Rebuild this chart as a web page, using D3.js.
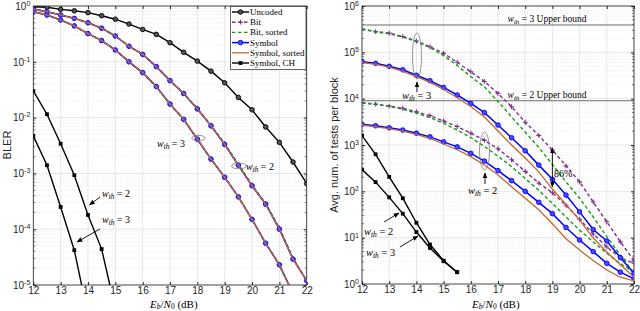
<!DOCTYPE html>
<html>
<head>
<meta charset="utf-8">
<script src="https://cdn.jsdelivr.net/npm/d3@7"></script>
<style>
  body { margin: 0; background: #fff; }
  svg { display: block; }
  .tick text { font-family: "Liberation Sans", Arial, sans-serif; font-size: 10px; fill: #262626; }
</style>
</head>
<body>
<div id="chart"></div>
<script>
// Eb/N0 grid (dB), shared by every curve
const ebn0 = [12, 12.5, 13, 13.5, 14, 14.5, 15, 15.5, 16, 16.5, 17, 17.5, 18, 18.5, 19, 19.5, 20, 20.5, 21, 21.5, 22];
const ebn0Ch = [12, 12.5, 13, 13.5, 14, 14.5, 15, 15.5];

// ---- left panel: BLER ----
const blerUncoded = [0.97, 0.95, 0.87, 0.82, 0.76, 0.67, 0.58, 0.475, 0.38, 0.31, 0.22, 0.148, 0.103, 0.068, 0.042, 0.023, 0.0138, 0.0068, 0.0036, 0.0016, 6.6e-4];
const blerBitW2 = [0.88, 0.79, 0.69, 0.60, 0.50, 0.40, 0.29, 0.19, 0.136, 0.082, 0.046, 0.027, 0.0146, 0.0073, 0.0034, 1.45e-3, 6.2e-4, 2.9e-4, 1.05e-4, 3.0e-5, 1.2e-5];
const blerBitW3 = [0.79, 0.69, 0.56, 0.44, 0.32, 0.24, 0.163, 0.10, 0.064, 0.036, 0.0175, 0.0093, 0.0041, 0.0018, 8.6e-4, 3.8e-4, 1.5e-4, 5.6e-5, 2.3e-5, 7e-6, null];
const blerBitSortW2 = [0.88, 0.79, 0.69, 0.60, 0.50, 0.40, 0.29, 0.19, 0.136, 0.082, 0.046, 0.027, 0.0145, 0.0072, 0.0034, 1.45e-3, 6.1e-4, 2.85e-4, 1.02e-4, 3.0e-5, 1.2e-5];
const blerBitSortW3 = [0.79, 0.69, 0.56, 0.44, 0.32, 0.24, 0.163, 0.10, 0.063, 0.035, 0.0172, 0.0092, 0.0041, 0.0018, 8.5e-4, 3.8e-4, 1.5e-4, 5.6e-5, 2.3e-5, 7e-6, null];
const blerSymW2 = [0.88, 0.79, 0.69, 0.60, 0.50, 0.40, 0.29, 0.19, 0.136, 0.082, 0.046, 0.027, 0.0143, 0.0071, 0.0033, 1.4e-3, 6.0e-4, 2.8e-4, 1.0e-4, 2.9e-5, 1.2e-5];
const blerSymW3 = [0.79, 0.69, 0.56, 0.44, 0.32, 0.24, 0.163, 0.10, 0.064, 0.036, 0.0175, 0.0093, 0.0041, 0.0018, 8.5e-4, 3.8e-4, 1.5e-4, 5.6e-5, 2.3e-5, 7e-6, null];
const blerSymSortW2 = [0.88, 0.79, 0.69, 0.60, 0.50, 0.40, 0.29, 0.19, 0.136, 0.082, 0.046, 0.027, 0.0143, 0.0071, 0.0033, 1.4e-3, 6.0e-4, 2.8e-4, 1.0e-4, 2.9e-5, 1.2e-5];
const blerSymSortW3 = [0.79, 0.69, 0.56, 0.44, 0.32, 0.24, 0.163, 0.10, 0.064, 0.036, 0.0175, 0.0093, 0.0041, 0.0018, 8.5e-4, 3.8e-4, 1.5e-4, 5.6e-5, 2.3e-5, 7e-6, null];
const blerChW2 = [0.030, 0.0115, 0.0034, 9.3e-4, 1.8e-4, 4.4e-5, 3.7e-6, null];
const blerChW3 = [0.0047, 1.4e-3, 2.5e-4, 4.2e-5, 2.9e-6, null, null, null];

// ---- right panel: average number of tests per block ----
const testsBitW3 = [3.2e5, 2.8e5, 2.6e5, 2.2e5, 1.75e5, 1.32e5, 9.5e4, 6.1e4, 3.8e4, 2.35e4, 1.3e4, 6.7e3, 3.1e3, 1.6e3, 780, 355, 160, 59, 22, 8.1, 3.2];
const testsBitSortW3 = [3.2e5, 2.75e5, 2.5e5, 2.15e5, 1.7e5, 1.26e5, 8.5e4, 5.2e4, 3.0e4, 1.8e4, 8.7e3, 4.0e3, 1.9e3, 890, 380, 160, 71, 28, 10.5, 4.2, 1.7];
const testsSymW3 = [6.3e4, 5.8e4, 5.0e4, 4.2e4, 3.2e4, 2.44e4, 1.75e4, 1.2e4, 7.9e3, 5.0e3, 2.7e3, 1.43e3, 750, 368, 182, 83, 36, 15, 8.5, 3.7, 1.7];
const testsSymSortW3 = [6.0e4, 5.5e4, 4.8e4, 3.9e4, 3.0e4, 2.24e4, 1.58e4, 1.05e4, 6.8e3, 4.0e3, 2.0e3, 1.0e3, 525, 263, 112, 52, 24, 9.8, 4.9, 2.6, 1.4];
const testsBitW2 = [8.1e3, 7.6e3, 6.9e3, 6.2e3, 5.2e3, 4.3e3, 3.3e3, 2.5e3, 1.8e3, 1.26e3, 830, 480, 270, 151, 93, 50, 25, 12, 6.3, 3.7, 2.8];
const testsBitSortW2 = [8.1e3, 7.6e3, 6.8e3, 5.9e3, 4.9e3, 3.9e3, 2.95e3, 2.1e3, 1.45e3, 930, 575, 340, 190, 105, 55, 28, 14.5, 8.1, 4.6, 2.75, 1.8];
const testsSymW2 = [2.8e3, 2.6e3, 2.35e3, 2.1e3, 1.8e3, 1.5e3, 1.17e3, 910, 660, 450, 280, 170, 100, 58, 33, 16.6, 8.9, 5.0, 2.8, 1.8, 1.3];
const testsSymSortW2 = [2.7e3, 2.45e3, 2.25e3, 2.0e3, 1.7e3, 1.38e3, 1.05e3, 790, 560, 370, 225, 126, 71, 40, 20, 9.5, 5.4, 3.2, 2.0, 1.4, 1.17];
const testsChW2 = [1.6e3, 630, 205, 71, 21, 7.1, 3.2, 1.8];
const testsChW3 = [295, 158, 74, 33, 13.2, 6.0, 3.1, 1.8];
const upperBoundW3 = 3.9e5;
const upperBoundW2 = 9.0e3;

const xTicks = [12, 13, 14, 15, 16, 17, 18, 19, 20, 21, 22];
const blerTicks = [1e-5, 1e-4, 1e-3, 1e-2, 1e-1, 1];
const testTicks = [1, 10, 100, 1e3, 1e4, 1e5, 1e6];

const legendNames = ["Uncoded", "Bit", "Bit, sorted", "Symbol", "Symbol, sorted", "Symbol, CH"];

// line styles
const styles = {
    uncoded: { color: "#000", width: 1.4, marker: "circle", fill: "#555" },
    bit: { color: "#7e2f8e", width: 1.4, dash: "3.5,2.5", marker: "plus" },
    bitSort: { color: "#1a9a1a", width: 1.4, dash: "3.5,2.5" },
    sym: { color: "#0000ff", width: 1.5, marker: "circle", fill: "#4a4aff" },
    symSort: { color: "#c0692e", width: 1.3 },
    ch: { color: "#000", width: 1.4, marker: "square" }
};

const serif = "'Liberation Serif', 'DejaVu Serif', serif";
const sans = "'Liberation Sans', Arial, sans-serif";

const svg = d3.select("#chart").append("svg")
    .attr("width", 640)
    .attr("height", 311);

svg.append("rect").attr("width", 640).attr("height", 311).attr("fill", "#fff");

const defs = svg.append("defs");
defs.append("marker")
    .attr("id", "arrow")
    .attr("viewBox", "0 0 10 10")
    .attr("refX", 9).attr("refY", 5)
    .attr("markerWidth", 6).attr("markerHeight", 6)
    .attr("markerUnits", "userSpaceOnUse")
    .attr("orient", "auto-start-reverse")
    .append("path")
    .attr("d", "M0,1 L10,5 L0,9 Z")
    .attr("fill", "#000");

function drawPanel(cfg) {
    const x = d3.scaleLinear().domain([12, 22]).range([cfg.left, cfg.right]);
    const y = d3.scaleLog().domain(cfg.yDomain).range([cfg.bottom, cfg.top]);
    const g = svg.append("g");

    defs.append("clipPath").attr("id", cfg.id + "-clip")
        .append("rect")
        .attr("x", cfg.left).attr("y", cfg.top)
        .attr("width", cfg.right - cfg.left).attr("height", cfg.bottom - cfg.top);

    // minor grid
    const minor = [];
    const lo = Math.round(Math.log10(cfg.yDomain[0]));
    const hi = Math.round(Math.log10(cfg.yDomain[1]));
    for (let k = lo; k < hi; k++) {
        for (let m = 2; m <= 9; m++) minor.push(m * Math.pow(10, k));
    }
    g.append("g").selectAll("line")
        .data(minor)
        .enter().append("line")
        .attr("x1", cfg.left).attr("x2", cfg.right)
        .attr("y1", d => y(d)).attr("y2", d => y(d))
        .attr("stroke", "#e4e4e4")
        .attr("stroke-width", 0.6)
        .attr("stroke-dasharray", "1.5,1.5");

    // major grid
    g.append("g").selectAll("line")
        .data(cfg.yTicks)
        .enter().append("line")
        .attr("x1", cfg.left).attr("x2", cfg.right)
        .attr("y1", d => y(d)).attr("y2", d => y(d))
        .attr("stroke", "#dcdcdc")
        .attr("stroke-width", 0.7);
    g.append("g").selectAll("line")
        .data(xTicks)
        .enter().append("line")
        .attr("x1", d => x(d)).attr("x2", d => x(d))
        .attr("y1", cfg.top).attr("y2", cfg.bottom)
        .attr("stroke", "#dcdcdc")
        .attr("stroke-width", 0.7);

    // axes (ticks point inwards, MATLAB style)
    g.append("g")
        .attr("transform", `translate(0,${cfg.bottom})`)
        .call(d3.axisBottom(x).tickValues(xTicks).tickSizeInner(-3).tickSizeOuter(0).tickPadding(2).tickFormat(d3.format("d")))
        .call(a => a.select(".domain").remove());
    g.append("g")
        .attr("transform", `translate(0,${cfg.top})`)
        .call(d3.axisTop(x).tickValues(xTicks).tickSizeInner(-3).tickSizeOuter(0).tickFormat(""))
        .call(a => a.select(".domain").remove());

    const yAxis = g.append("g")
        .attr("transform", `translate(${cfg.left},0)`)
        .call(d3.axisLeft(y).tickValues(cfg.yTicks).tickSizeInner(-3).tickSizeOuter(0).tickPadding(3))
        .call(a => a.select(".domain").remove());
    yAxis.selectAll(".tick text").each(function (d) {
        const t = d3.select(this);
        t.text(null);
        t.append("tspan").text("10");
        t.append("tspan").attr("dy", "-0.55em").style("font-size", "7px").text(Math.round(Math.log10(d)));
    });
    g.append("g")
        .attr("transform", `translate(${cfg.right},0)`)
        .call(d3.axisRight(y).tickValues(cfg.yTicks).tickSizeInner(-3).tickSizeOuter(0).tickFormat(""))
        .call(a => a.select(".domain").remove());

    // minor ticks on the log axes
    [[cfg.left, 2], [cfg.right, -2]].forEach(([px, len]) => {
        g.append("g").selectAll("line")
            .data(minor)
            .enter().append("line")
            .attr("x1", px).attr("x2", px + len)
            .attr("y1", d => y(d)).attr("y2", d => y(d))
            .attr("stroke", "#262626")
            .attr("stroke-width", 0.6);
    });
    g.selectAll(".tick line").attr("stroke", "#262626");

    // box
    g.append("rect")
        .attr("x", cfg.left).attr("y", cfg.top)
        .attr("width", cfg.right - cfg.left).attr("height", cfg.bottom - cfg.top)
        .attr("fill", "none")
        .attr("stroke", "#262626")
        .attr("stroke-width", 0.8);

    const plot = svg.append("g").attr("clip-path", `url(#${cfg.id}-clip)`);

    // horizontal reference lines
    (cfg.hlines || []).forEach(v => {
        plot.append("line")
            .attr("x1", cfg.left).attr("x2", cfg.right)
            .attr("y1", y(v)).attr("y2", y(v))
            .attr("stroke", "#6e6e6e")
            .attr("stroke-width", 1.1);
    });

    cfg.series.forEach(s => {
        const pts = s.xs.map((xv, i) => [xv, s.ys[i]]).filter(p => p[1] != null);
        drawSeries(plot, pts, s.style, x, y);
    });

    return { x, y };
}

function drawMarker(sel, pts, st, x, y) {
    if (st.marker === "circle") {
        sel.selectAll(null).data(pts).enter().append("circle")
            .attr("cx", d => x(d[0])).attr("cy", d => y(d[1]))
            .attr("r", 2.3)
            .attr("fill", st.fill)
            .attr("stroke", st.color)
            .attr("stroke-width", 0.9);
    } else if (st.marker === "square") {
        sel.selectAll(null).data(pts).enter().append("rect")
            .attr("x", d => x(d[0]) - 1.9).attr("y", d => y(d[1]) - 1.9)
            .attr("width", 3.8).attr("height", 3.8)
            .attr("fill", st.color);
    } else if (st.marker === "plus") {
        sel.selectAll(null).data(pts).enter().append("path")
            .attr("d", d => {
                const px = x(d[0]), py = y(d[1]);
                return `M${px - 2.4},${py}H${px + 2.4}M${px},${py - 2.4}V${py + 2.4}`;
            })
            .attr("stroke", st.color)
            .attr("stroke-width", 1.1);
    }
}

function drawSeries(sel, pts, st, x, y) {
    const line = d3.line().x(d => x(d[0])).y(d => y(d[1]));
    sel.append("path")
        .datum(pts)
        .attr("d", line)
        .attr("fill", "none")
        .attr("stroke", st.color)
        .attr("stroke-width", st.width)
        .attr("stroke-dasharray", st.dash || null);
    drawMarker(sel, pts, st, x, y);
}

// w_th label: italic w with subscript th, then " = n"
function wth(sel, px, py, n, size) {
    const t = sel.append("text")
        .attr("x", px).attr("y", py)
        .attr("font-family", serif)
        .attr("font-size", size || 10);
    t.append("tspan").attr("font-style", "italic").text("w");
    t.append("tspan").attr("font-style", "italic").attr("font-size", (size || 10) * 0.72).attr("dy", 2).text("th");
    t.append("tspan").attr("dy", -2).text(" = " + n);
    return t;
}

function arrow(x1, y1, x2, y2, both) {
    svg.append("line")
        .attr("x1", x1).attr("y1", y1).attr("x2", x2).attr("y2", y2)
        .attr("stroke", "#000")
        .attr("stroke-width", 0.9)
        .attr("marker-end", "url(#arrow)")
        .attr("marker-start", both ? "url(#arrow)" : null);
}

function ellipse(cx, cy, rx, ry) {
    svg.append("ellipse")
        .attr("cx", cx).attr("cy", cy).attr("rx", rx).attr("ry", ry)
        .attr("fill", "none")
        .attr("stroke", "#7a7a7a")
        .attr("stroke-width", 0.8);
}

function xLabel(px, py) {
    const t = svg.append("text")
        .attr("x", px).attr("y", py)
        .attr("font-family", serif)
        .attr("font-size", 11);
    t.append("tspan").attr("font-style", "italic").text("E");
    t.append("tspan").attr("font-style", "italic").attr("font-size", 7.5).attr("dy", 1.6).text("b");
    t.append("tspan").attr("dy", -1.6).text("/");
    t.append("tspan").attr("font-style", "italic").text("N");
    t.append("tspan").attr("font-size", 7.5).attr("dy", 1.6).text("0");
    t.append("tspan").attr("dy", -1.6).text(" (dB)");
}

// ---------- left panel ----------
drawPanel({
    id: "bler",
    left: 33.3, right: 306.7, top: 6, bottom: 285,
    yDomain: [1e-5, 1],
    yTicks: blerTicks,
    series: [
        { xs: ebn0, ys: blerUncoded, style: styles.uncoded },
        { xs: ebn0, ys: blerBitW2, style: styles.bit },
        { xs: ebn0, ys: blerBitW3, style: styles.bit },
        { xs: ebn0, ys: blerBitSortW2, style: styles.bitSort },
        { xs: ebn0, ys: blerBitSortW3, style: styles.bitSort },
        { xs: ebn0, ys: blerSymW2, style: styles.sym },
        { xs: ebn0, ys: blerSymW3, style: styles.sym },
        { xs: ebn0, ys: blerSymSortW2, style: styles.symSort },
        { xs: ebn0, ys: blerSymSortW3, style: styles.symSort },
        { xs: ebn0Ch, ys: blerChW2, style: styles.ch },
        { xs: ebn0Ch, ys: blerChW3, style: styles.ch }
    ]
});

// ---------- right panel ----------
drawPanel({
    id: "tests",
    left: 362, right: 634, top: 6, bottom: 284,
    yDomain: [1, 1e6],
    yTicks: testTicks,
    hlines: [upperBoundW3, upperBoundW2],
    series: [
        { xs: ebn0, ys: testsBitW3, style: styles.bit },
        { xs: ebn0, ys: testsBitW2, style: styles.bit },
        { xs: ebn0, ys: testsBitSortW3, style: styles.bitSort },
        { xs: ebn0, ys: testsBitSortW2, style: styles.bitSort },
        { xs: ebn0, ys: testsSymW3, style: styles.sym },
        { xs: ebn0, ys: testsSymW2, style: styles.sym },
        { xs: ebn0, ys: testsSymSortW3, style: styles.symSort },
        { xs: ebn0, ys: testsSymSortW2, style: styles.symSort },
        { xs: ebn0Ch, ys: testsChW2, style: styles.ch },
        { xs: ebn0Ch, ys: testsChW3, style: styles.ch }
    ]
});

// axis titles
svg.append("text")
    .attr("transform", "translate(11,145) rotate(-90)")
    .attr("text-anchor", "middle")
    .attr("font-family", sans)
    .attr("font-size", 11)
    .attr("fill", "#262626")
    .text("BLER");
svg.append("text")
    .attr("transform", "translate(338,145) rotate(-90)")
    .attr("text-anchor", "middle")
    .attr("font-family", sans)
    .attr("font-size", 11)
    .attr("fill", "#262626")
    .text("Avg. num. of tests per block");
xLabel(150, 307.5);
xLabel(472, 307.5);

// legend
const legend = svg.append("g");
legend.append("rect")
    .attr("x", 230.5).attr("y", 6.5).attr("width", 75.5).attr("height", 63)
    .attr("fill", "#fff")
    .attr("stroke", "#262626")
    .attr("stroke-width", 0.7);
const legendStyles = [styles.uncoded, styles.bit, styles.bitSort, styles.sym, styles.symSort, styles.ch];
legendNames.forEach((name, i) => {
    const ly = 12 + i * 10.2;
    const st = legendStyles[i];
    legend.append("line")
        .attr("x1", 232).attr("x2", 249)
        .attr("y1", ly).attr("y2", ly)
        .attr("stroke", st.color)
        .attr("stroke-width", st.width)
        .attr("stroke-dasharray", st.dash || null);
    if (st.marker) {
        drawMarker(legend, [[240.5, ly]], st, v => v, v => v);
    }
    legend.append("text")
        .attr("x", 250).attr("y", ly + 3)
        .attr("font-family", serif)
        .attr("font-size", 9)
        .text(name);
});

// left panel annotations
ellipse(198.5, 138, 6.7, 2.6);
wth(svg, 157, 147, 3);
ellipse(239, 166, 7.5, 2.8);
wth(svg, 246, 170, 2);
wth(svg, 102, 197, 2);
arrow(100, 197, 89.5, 205);
wth(svg, 102, 223, 3);
arrow(100, 229, 77, 242);

// right panel annotations
const ub3 = svg.append("text").attr("x", 547).attr("y", 22).attr("text-anchor", "middle")
    .attr("font-family", serif).attr("font-size", 9.5);
ub3.append("tspan").attr("font-style", "italic").text("w");
ub3.append("tspan").attr("font-style", "italic").attr("font-size", 7).attr("dy", 2).text("th");
ub3.append("tspan").attr("dy", -2).text(" = 3 Upper bound");
const ub2 = svg.append("text").attr("x", 547).attr("y", 98).attr("text-anchor", "middle")
    .attr("font-family", serif).attr("font-size", 9.5);
ub2.append("tspan").attr("font-style", "italic").text("w");
ub2.append("tspan").attr("font-style", "italic").attr("font-size", 7).attr("dy", 2).text("th");
ub2.append("tspan").attr("dy", -2).text(" = 2 Upper bound");

ellipse(417, 56, 4.5, 23);
arrow(417, 92, 417, 82);
wth(svg, 402, 99, 3, 10.5);
ellipse(484.5, 151, 5, 19);
arrow(485, 184, 485, 173);
wth(svg, 468, 194, 2, 10.5);

wth(svg, 364, 235, 2, 10.5);
arrow(384, 222, 399, 213);
wth(svg, 366, 256, 3, 10.5);
arrow(400, 247, 418, 236);

arrow(552.4, 168, 552.4, 148, false);
arrow(552.4, 168, 552.4, 187, false);
svg.append("text")
    .attr("x", 554).attr("y", 177)
    .attr("font-family", serif)
    .attr("font-size", 10)
    .text("86%");
</script>
</body>
</html>
